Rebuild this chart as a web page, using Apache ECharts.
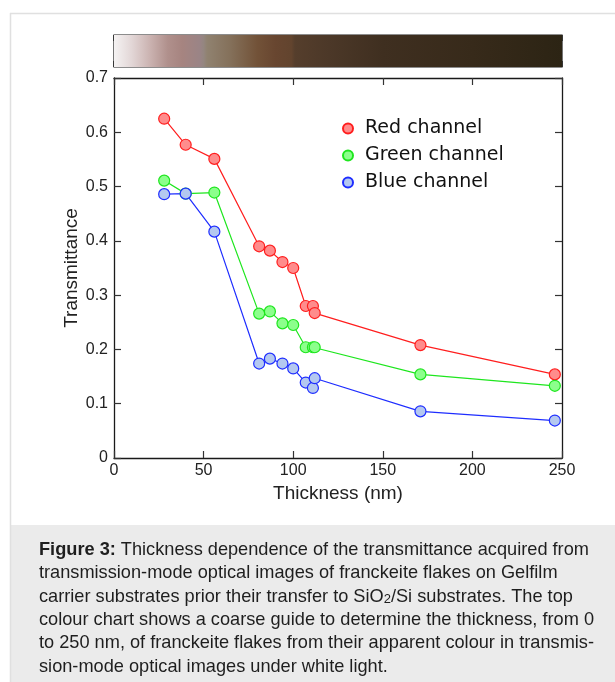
<!DOCTYPE html>
<html>
<head>
<meta charset="utf-8">
<script src="https://cdn.jsdelivr.net/npm/echarts@6/dist/echarts.min.js"></script>
<style>
html,body{margin:0;padding:0;background:#fff;}
#chart{width:615px;height:682px;}
</style>
</head>
<body>
<div id="chart"></div>
<script>
// ---- data ----
var thickness = [28, 40, 56, 81, 87, 94, 100, 107, 111, 112, 171, 246];
var redChannel   = [0.625, 0.577, 0.551, 0.390, 0.382, 0.361, 0.350, 0.280, 0.280, 0.267, 0.208, 0.154];
var greenChannel = [0.511, 0.487, 0.489, 0.266, 0.270, 0.248, 0.245, 0.204, 0.204, 0.204, 0.154, 0.133];
var blueChannel  = [0.486, 0.487, 0.417, 0.174, 0.183, 0.174, 0.165, 0.139, 0.129, 0.147, 0.086, 0.069];
var seriesNames = ['Red channel', 'Green channel', 'Blue channel'];
// colour chart: thickness (nm) -> apparent colour
var colourStopNm  = [0, 10, 20, 30, 38, 48, 50, 52, 65, 80, 90, 99, 101, 120, 150, 200, 250];
var colourStopHex = ['#f5f3f3', '#e2d6d6', '#cbb3b1', '#b0908c', '#a68480', '#9a8486', '#948680',
                     '#908270', '#84705a', '#725238', '#684630', '#62442e', '#553e2c', '#4c3828',
                     '#3f2f20', '#372a1a', '#2c2414'];
var xTicks = [0, 50, 100, 150, 200, 250];
var yTicks = [0, 0.1, 0.2, 0.3, 0.4, 0.5, 0.6, 0.7];
var captionLines = [
  '{b|Figure 3:} Thickness dependence of the transmittance acquired from',
  'transmission-mode optical images of franckeite flakes on Gelfilm',
  'carrier substrates prior their transfer to SiO{s|2}/Si substrates. The top',
  'colour chart shows a coarse guide to determine the thickness, from 0',
  'to 250 nm, of franckeite flakes from their apparent colour in transmis-',
  'sion-mode optical images under white light.'
];

function pairs(xs, ys) { return xs.map(function (x, i) { return [x, ys[i]]; }); }

var chart = echarts.init(document.getElementById('chart'), null, {renderer: 'canvas'});
var axisCol = '#1a1a1a';
var FONT = 'Liberation Sans, Arial, sans-serif';
var labelFont = {fontFamily: FONT, fontSize: 16, color: '#222'};

function mkSeries(name, data, line, fill) {
  return {
    name: name, type: 'line', xAxisIndex: 0, yAxisIndex: 0,
    data: data, symbol: 'circle', symbolSize: 11,
    lineStyle: {color: line, width: 1.2},
    itemStyle: {color: fill, borderColor: line, borderWidth: 1.2},
    emphasis: {disabled: true}, z: 3
  };
}

var caption = captionLines.map(function (t, i) {
  return {
    type: 'text', x: 39, y: 550 + i * 23.3, z: 10,
    style: {
      text: t, fill: '#1e1e1e', fontSize: 18.2, fontFamily: FONT,
      verticalAlign: 'middle',
      rich: {
        b: {fontWeight: 'bold', fontSize: 18.2, fontFamily: FONT, fill: '#1e1e1e', lineHeight: 21},
        s: {fontSize: 13, fontFamily: FONT, fill: '#1e1e1e', lineHeight: 10, verticalAlign: 'bottom'}
      }
    }
  };
});

var option = {
  animation: false,
  backgroundColor: '#fff',
  grid: [
    {left: 114, right: 53, top: 78, height: 380, show: false},
    {left: 114, right: 53, top: 35, height: 32, show: true, borderColor: axisCol, borderWidth: 1.2, backgroundColor: 'transparent'}
  ],
  xAxis: [
    {gridIndex: 0, type: 'value', min: 0, max: 250, interval: 50, position: 'bottom',
     axisLine: {show: true, onZero: false, lineStyle: {color: axisCol, width: 1.3}},
     axisTick: {show: true, inside: true, length: 7, lineStyle: {color: '#333', width: 1.2}},
     axisLabel: Object.assign({margin: 5}, labelFont),
     splitLine: {show: false},
     name: 'Thickness (nm)', nameLocation: 'middle', nameGap: 26, nameMoveOverlap: false,
     nameTextStyle: {fontFamily: FONT, fontSize: 19, color: '#222'}},
    {gridIndex: 0, type: 'value', min: 0, max: 250, interval: 50, position: 'top',
     axisLine: {show: true, onZero: false, lineStyle: {color: axisCol, width: 1.3}},
     axisTick: {show: true, inside: true, length: 7, lineStyle: {color: '#333', width: 1.2}},
     axisLabel: {show: false}, splitLine: {show: false}},
    {gridIndex: 1, type: 'value', min: 0, max: 250, interval: 50, position: 'bottom',
     axisLine: {show: false, onZero: false},
     axisTick: {show: true, inside: true, length: 6, lineStyle: {color: '#222', width: 1.5}},
     axisLabel: {show: false}, splitLine: {show: false}},
    {gridIndex: 1, type: 'value', min: 0, max: 250, interval: 50, position: 'top',
     axisLine: {show: false, onZero: false},
     axisTick: {show: true, inside: true, length: 6, lineStyle: {color: '#222', width: 1.5}},
     axisLabel: {show: false}, splitLine: {show: false}}
  ],
  yAxis: [
    {gridIndex: 0, type: 'value', min: 0, max: 0.7, interval: 0.1, position: 'left',
     axisLine: {show: true, onZero: false, lineStyle: {color: axisCol, width: 1.3}},
     axisTick: {show: true, inside: true, length: 7, lineStyle: {color: '#333', width: 1.2}},
     axisLabel: Object.assign({margin: 6, formatter: function (v) { return v === 0 ? '0' : v.toFixed(1); }}, labelFont),
     splitLine: {show: false},
     name: 'Transmittance', nameLocation: 'middle', nameGap: 33, nameRotate: 90, nameMoveOverlap: false,
     nameTextStyle: {fontFamily: FONT, fontSize: 19, color: '#222'}},
    {gridIndex: 0, type: 'value', min: 0, max: 0.7, interval: 0.1, position: 'right',
     axisLine: {show: true, onZero: false, lineStyle: {color: axisCol, width: 1.3}},
     axisTick: {show: true, inside: true, length: 7, lineStyle: {color: '#333', width: 1.2}},
     axisLabel: {show: false}, splitLine: {show: false}},
    {gridIndex: 1, type: 'value', min: 0, max: 1, show: false}
  ],
  legend: {
    orient: 'vertical', left: 337, top: 114, itemGap: 8, itemWidth: 24, itemHeight: 10,
    icon: 'circle', selectedMode: false,
    data: seriesNames,
    textStyle: {fontFamily: 'DejaVu Sans', fontSize: 19, color: '#111'}
  },
  series: [
    {
      type: 'custom', xAxisIndex: 2, yAxisIndex: 2, silent: true, z: 1,
      data: [[colourStopNm[0], colourStopNm[colourStopNm.length - 1]]],
      renderItem: function (params, api) {
        var p0 = api.coord([api.value(0), 1]);
        var p1 = api.coord([api.value(1), 0]);
        var span = colourStopNm[colourStopNm.length - 1] - colourStopNm[0];
        var stops = colourStopNm.map(function (nm, i) {
          return {offset: (nm - colourStopNm[0]) / span, color: colourStopHex[i]};
        });
        return {
          type: 'rect',
          shape: {x: p0[0], y: p0[1], width: p1[0] - p0[0], height: p1[1] - p0[1]},
          style: {fill: new echarts.graphic.LinearGradient(0, 0, 1, 0, stops)}
        };
      }
    },
    mkSeries(seriesNames[0], pairs(thickness, redChannel), '#ff1e1e', '#ff8c8c'),
    mkSeries(seriesNames[1], pairs(thickness, greenChannel), '#1ee61e', '#8cff8c'),
    mkSeries(seriesNames[2], pairs(thickness, blueChannel), '#1e2dff', '#b4c8f0')
  ],
  graphic: [
    {type: 'rect', z: -1, shape: {x: 10, y: 525, width: 605, height: 157}, style: {fill: '#ebebeb'}},
    {type: 'line', z: -1, shape: {x1: 10, y1: 13.5, x2: 615, y2: 13.5}, style: {stroke: '#e0e0e0', lineWidth: 1.5}},
    {type: 'line', z: -1, shape: {x1: 10.5, y1: 13, x2: 10.5, y2: 682}, style: {stroke: '#e0e0e0', lineWidth: 1.5}}
  ].concat(caption)
};
chart.setOption(option);
</script>
</body>
</html>
